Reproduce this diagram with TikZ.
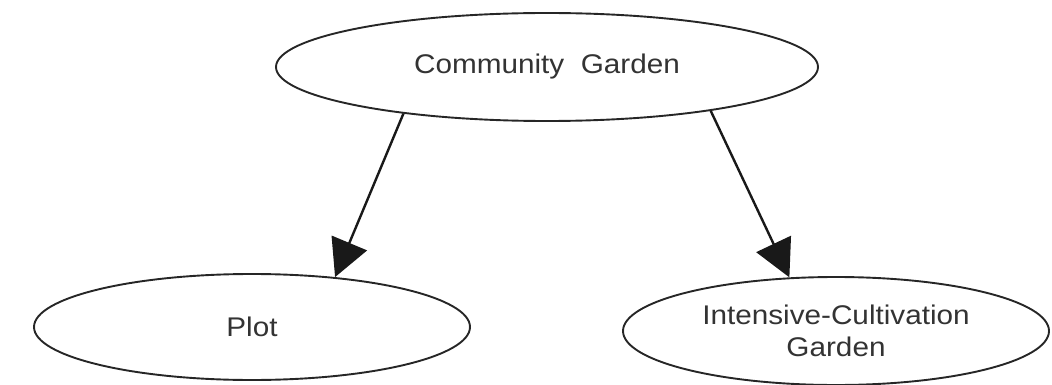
\documentclass[tikz,border=0pt]{standalone}
\usepackage{fontspec}
\setmainfont[FakeStretch=1.1]{Liberation Sans}
\usetikzlibrary{arrows.meta,shapes.geometric}

\begin{document}
\begin{tikzpicture}[
x=1pt,y=-1pt,
oval/.style={
ellipse,draw=black!85,line width=1.9pt,
inner sep=0pt,align=center,
text=black!80,
font=\fontsize{27}{32}\selectfont
},
arrow/.style={-{Triangle[length=37pt,width=38pt]}, line width=2.4pt, black!90}
]

\useasboundingbox (0,0) rectangle (1052,385);

% =======================
% TOP
% =======================

\node[oval,minimum width=542pt,minimum height=108pt] (garden) at (547,67)
{Community\ \ Garden};

% =======================
% BOTTOM
% =======================

\node[oval,minimum width=436pt,minimum height=106pt] (plot) at (252,327)
{Plot};

\node[oval,minimum width=426pt,minimum height=108pt] (intensive) at (836,331)
{Intensive-Cultivation\\Garden};

% =======================
% ARROWS
% =======================

\draw[arrow] (garden.198) -- (plot.31);
\draw[arrow] (garden.345.5) -- (intensive.131);

\end{tikzpicture}
\end{document}
